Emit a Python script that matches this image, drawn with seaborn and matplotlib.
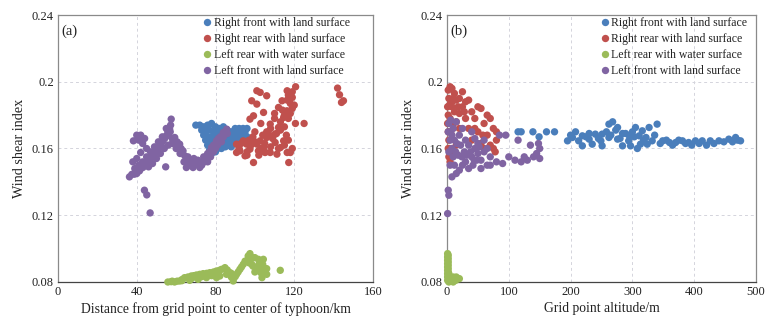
import numpy as np
import pandas as pd
import seaborn as sns
import matplotlib.pyplot as plt

# ---------------- data: panel (a) distance (km) vs wind shear index ----------------
right_front_a = [(70,0.174),(72,0.174),(74,0.173),(76,0.174),(78,0.175),(80,0.173),(82,0.172),(84,0.173),
    (86,0.171),(88,0.170),(90,0.172),(92,0.172),(94,0.172),(96,0.172),(73,0.171),(75,0.170),(77,0.171),
    (79,0.170),(81,0.170),(83,0.169),(85,0.170),(87,0.169),(89,0.168),(91,0.169),(93,0.169),(95,0.170),
    (74,0.168),(76,0.167),(78,0.167),(80,0.168),(82,0.167),(84,0.166),(86,0.166),(88,0.167),(90,0.166),
    (92,0.166),(94,0.167),(75,0.165),(77,0.164),(79,0.165),(81,0.164),(83,0.165),(85,0.164),(87,0.164),
    (89,0.165),(91,0.164),(76,0.162),(78,0.161),(80,0.162),(82,0.162),(84,0.163),(86,0.162),(88,0.163),
    (90,0.163),(77,0.159),(79,0.159),(81,0.160),(83,0.160),(78,0.157),(80,0.158),(85,0.161),(88,0.161),
    (92,0.165),(96,0.167),(97,0.166),(95,0.168),(93,0.164)]
right_rear_a = [(101,0.1946),(102.7,0.1936),(106,0.1916),(98.4,0.1886),(101,0.1866),(99.3,0.1796),
    (97.5,0.1776),(104.4,0.1816),(107.8,0.1746),(107,0.1686),(112,0.1846),(113.8,0.1886),(116.4,0.1946),
    (120.7,0.197),(116.4,0.189),(119,0.1906),(116.3,0.1826),(114.6,0.1786),(112,0.1726),(110.3,0.1686),
    (120.6,0.175),(125,0.175),(142,0.1962),(143,0.1922),(144,0.1876),(145,0.1886),(90.7,0.1626),
    (92.4,0.1586),(95,0.1556),(99.3,0.1516),(97.5,0.1596),(101,0.1626),(104.4,0.1606),(107.8,0.1576),
    (110.3,0.1636),(113,0.1606),(116.4,0.1576),(117.2,0.1516),(118,0.1576),(106,0.1666),(102.7,0.1646),
    (95.8,0.1626),(94.1,0.1646),(90.7,0.1576),(114.6,0.1646),(111.2,0.1566),(105.2,0.1576),(101.8,0.1586),
    (92,0.160),(93,0.163),(96,0.158),(98,0.162),(100,0.164),(103,0.160),(105,0.163),(108,0.161),
    (109,0.166),(111,0.169),(113,0.171),(115,0.173),(117,0.178),(118,0.181),(119,0.184),(120,0.186),
    (118,0.187),(115,0.180),(113,0.176),(110,0.178),(108,0.172),(106,0.170),(104,0.168),(103,0.175),
    (100,0.170),(99,0.167),(97,0.165),(112,0.160),(115,0.162),(117,0.165),(119,0.160),(116,0.168),
    (114,0.183),(117,0.192),(119,0.194),(110,0.181),(105,0.158),(96,0.156),(102,0.156)]
left_rear_a = [(55.8,0.080),(57.5,0.0802),(59.2,0.080),(60.5,0.0805),(61.8,0.0806),(63,0.0815),
    (64.3,0.0826),(66,0.083),(67.7,0.0836),(69,0.0838),(70.3,0.0842),(72,0.0846),(73.7,0.085),
    (75.5,0.0852),(77.1,0.0856),(79,0.086),(80.5,0.0866),(82,0.087),(83.1,0.0876),(84.8,0.0886),
    (86,0.0872),(87.3,0.0856),(88,0.083),(89,0.0806),(90.7,0.0846),(91.5,0.086),(92.4,0.0876),
    (93.2,0.089),(94.1,0.0906),(95,0.0925),(95.8,0.0926),(96.6,0.0956),(97.5,0.097),(98.4,0.0906),
    (99,0.0945),(100,0.0946),(101,0.0876),(101.8,0.0936),(102.7,0.0886),(103.6,0.0826),(104.3,0.0936),
    (105.3,0.0866),(106,0.0846),(112.9,0.087),(80.5,0.0826),(75.4,0.0826),(71.2,0.0816),(66.9,0.081),
    (85.6,0.0846),(82.2,0.0836),(78,0.0838),(73,0.0832),(68,0.0822),(63,0.0808),(58,0.0805),(88,0.0852),
    (90,0.0832),(97,0.0915),(99,0.0895),(102,0.0905),(104,0.0905),(106,0.0880),(100,0.0860),(103,0.0856)]
left_front_a = [(36.3,0.143),(37.5,0.1445),(38.8,0.1446),(40,0.145),(41.4,0.1466),(42,0.148),(43.1,0.1486),
    (44,0.150),(44.8,0.1506),(45.5,0.152),(46.5,0.153),(47.3,0.155),(48.2,0.1556),(49,0.157),(49.9,0.1586),
    (50.8,0.160),(51.6,0.1616),(52.5,0.163),(53.3,0.1646),(54.2,0.166),(55,0.1676),(55.8,0.170),
    (56.7,0.1716),(57.2,0.174),(57.5,0.1776),(39,0.148),(41,0.150),(43,0.152),(45,0.155),(47,0.158),
    (49,0.161),(51,0.164),(53,0.167),(55,0.172),(57,0.170),(38,0.152),(40,0.154),(42,0.1576),(46,0.149),
    (48,0.151),(50,0.154),(52,0.157),(54,0.160),(56,0.162),(58,0.166),(56,0.168),(40,0.168),(42,0.168),
    (44,0.166),(38.3,0.1646),(41,0.165),(43,0.163),(45,0.160),(43.9,0.135),(45.1,0.1322),(46.8,0.1214),
    (54.7,0.149),(59.3,0.1666),(60.5,0.164),(61.8,0.1626),(62.5,0.160),(63.5,0.1586),(64.4,0.1556),
    (65.2,0.1486),(66,0.155),(66.9,0.1526),(68,0.152),(68.6,0.1486),(70.3,0.1506),(71,0.153),(72,0.1486),
    (73,0.150),(73.7,0.1516),(74.5,0.153),(75.4,0.1546),(76,0.157),(77,0.158),(78,0.1606),(79,0.162),
    (80.5,0.1646),(81.5,0.166),(82.5,0.167),(84,0.1696),(85.7,0.1716),(58,0.163),(60,0.160),(62,0.157),
    (64,0.152),(67,0.150),(69,0.154),(71,0.151),(74,0.155),(76,0.152),(77.5,0.155),(79,0.158),(80,0.160),
    (81,0.162),(83,0.164),(84,0.167),(86,0.169)]

# ---------------- data: panel (b) altitude (m) vs wind shear index ----------------
right_front_b = [(115,0.170),(120,0.170),(139,0.170),(149,0.167),(161,0.170),(174,0.170),(195,0.1646),
    (203,0.1666),(213,0.1646),(219,0.1676),(230,0.1656),(240,0.1686),(249,0.1646),(262,0.1746),
    (268,0.176),(273,0.171),(284,0.169),(294,0.1646),(305,0.1726),(311,0.1676),(322,0.1666),(327,0.1726),
    (332,0.1646),(340,0.1746),(349,0.1646),(360,0.1636),(370,0.1636),(381,0.1646),(391,0.1636),
    (402,0.1646),(413,0.1646),(426,0.1646),(440,0.1646),(456,0.1656),(467,0.1666),(475,0.1646),
    (219,0.1616),(230,0.169),(251,0.1686),(276,0.1656),(289,0.169),(297,0.1616),(308,0.160),(313,0.1626),
    (324,0.1626),(316,0.1706),(295,0.1676),(284,0.1616),(262,0.1666),(251,0.1616),(235,0.1626),
    (276,0.1726),(200,0.168),(208,0.170),(225,0.167),(245,0.166),(258,0.170),(265,0.168),(280,0.166),
    (300,0.170),(303,0.167),(318,0.165),(336,0.168),(345,0.163),(355,0.165),(365,0.162),(375,0.165),
    (386,0.163),(396,0.162),(408,0.163),(420,0.162),(432,0.163),(448,0.164),(462,0.164),(470,0.165)]
right_rear_b = [(2,0.195),(5,0.197),(8,0.196),(12,0.193),(3,0.19),(8,0.188),(15,0.189),(20,0.19),
    (25,0.194),(30,0.188),(35,0.189),(25,0.185),(40,0.182),(50,0.185),(55,0.184),(45,0.178),(30,0.178),
    (65,0.18),(70,0.178),(60,0.175),(75,0.172),(80,0.17),(2,0.18),(5,0.178),(10,0.175),(15,0.176),
    (20,0.172),(35,0.172),(50,0.17),(65,0.168),(80,0.165),(2,0.17),(3,0.165),(2,0.16),(3,0.155),(5,0.152),
    (10,0.158),(15,0.162),(40,0.165),(55,0.163),(60,0.16),(70,0.162),(75,0.16),(78,0.158),(8,0.185),
    (12,0.182),(20,0.181),(1,0.185),(1,0.175),(4,0.186),(10,0.190),(18,0.185),(28,0.182),(6,0.170),
    (4,0.160),(8,0.155),(45,0.172),(58,0.168)]
left_rear_b = [(1,0.097),(1,0.095),(1,0.093),(1,0.091),(1,0.089),(1,0.087),(1,0.085),(1,0.083),(1,0.081),
    (2,0.096),(2,0.092),(2,0.088),(3,0.085),(5,0.083),(8,0.082),(10,0.083),(12,0.082),(15,0.083),
    (18,0.082),(20,0.082),(6,0.081),(14,0.081),(3,0.08),(10,0.080),(2,0.094),(2,0.090),(2,0.086),(2,0.084)]
left_front_b = [(85,0.168),(95,0.168),(100,0.155),(110,0.153),(115,0.165),(125,0.155),(130,0.153),
    (135,0.162),(140,0.155),(145,0.157),(150,0.16),(150,0.154),(148,0.163),(120,0.152),(90,0.151),
    (80,0.152),(70,0.155),(65,0.15),(2,0.17),(5,0.165),(8,0.16),(10,0.155),(12,0.15),(15,0.145),(8,0.143),
    (20,0.147),(25,0.15),(30,0.152),(35,0.148),(40,0.155),(45,0.16),(50,0.157),(55,0.153),(60,0.158),
    (20,0.168),(25,0.172),(15,0.176),(10,0.172),(30,0.165),(35,0.162),(40,0.17),(45,0.166),(50,0.163),
    (60,0.165),(65,0.16),(3,0.158),(5,0.15),(18,0.156),(28,0.158),(38,0.158),(22,0.162),(12,0.165),
    (3,0.175),(6,0.177),(42,0.15),(48,0.153),(55,0.148),(70,0.15),(2,0.135),(3,0.132),(1,0.121),
    (14,0.158),(24,0.155),(32,0.156),(44,0.153),(52,0.161),(8,0.168),(16,0.163)]

groups = ["Right front with land surface", "Right rear with land surface",
          "Left rear with water surface", "Left front with land surface"]
colors = ["#4a7ebb", "#c0504d", "#9bbb59", "#8064a2"]
x_ticks_a = [0, 40, 80, 120, 160]
x_ticks_b = [0, 100, 200, 300, 400, 500]
y_ticks = [0.08, 0.12, 0.16, 0.2, 0.24]
y_tick_labels = ["0.08", "0.12", "0.16", "0.2", "0.24"]


def frame(series):
    rows = []
    for g, pts in zip(groups, series):
        for x, y in pts:
            rows.append((x, y, g))
    return pd.DataFrame(rows, columns=["x", "y", "group"])


df_a = frame([right_front_a, right_rear_a, left_rear_a, left_front_a])
df_b = frame([right_front_b, right_rear_b, left_rear_b, left_front_b])

sns.set_theme(style="white")
plt.rcParams["font.family"] = ["Liberation Serif", "DejaVu Serif"]

fig = plt.figure(figsize=(7.66, 3.24), dpi=100)
W, H = 766, 324
ax1 = fig.add_axes([58 / W, 42 / H, 315 / W, 267 / H])
ax2 = fig.add_axes([447 / W, 42 / H, 309 / W, 267 / H])

palette = dict(zip(groups, colors))
panels = [
    (ax1, df_a, x_ticks_a, "Distance from grid point to center of typhoon/km", "(a)", (1 - 23 / 315, 1 - 2 / 267), 0.2),
    (ax2, df_b, x_ticks_b, "Grid point altitude/m", "(b)", (1 - 9 / 309, 1 - 2 / 267), 0.1),
]
for ax, df, xt, xlab, tag, anchor, tpad in panels:
    sns.scatterplot(data=df, x="x", y="y", hue="group", hue_order=groups, palette=palette,
                    s=28, linewidth=0, alpha=1, ax=ax, zorder=3, clip_on=False)
    ax.set_xlim(xt[0], xt[-1])
    ax.set_ylim(0.08, 0.24)
    ax.set_xticks(xt)
    ax.set_yticks(y_ticks)
    ax.set_yticklabels(y_tick_labels)
    ax.grid(True, linestyle=(0, (3, 3)), color="#d4d4dc", linewidth=0.7)
    ax.tick_params(direction="in", length=3, width=0.8, colors="#666666", labelcolor="#222222",
                   labelsize=9, pad=3)
    for sp in ax.spines.values():
        sp.set_color("#8a8a8a")
        sp.set_linewidth(0.9)
    ax.spines["bottom"].set_color("#444444")
    ax.set_xlabel(xlab, fontsize=9.8, color="#222222", labelpad=3)
    ax.set_ylabel("Wind shear index", fontsize=10.2, color="#222222", labelpad=4)
    ax.text(0.012, 0.965, tag, transform=ax.transAxes, ha="left", va="top", fontsize=10.5, color="#222222")
    handles, labels = ax.get_legend_handles_labels()
    ax.legend(handles, labels, loc="upper right", bbox_to_anchor=anchor, frameon=False, fontsize=8.5,
              handletextpad=tpad, labelspacing=0.33, handlelength=0.8, borderaxespad=0.0,
              borderpad=0.0, markerscale=1.0, labelcolor="#222222")

fig.savefig("out.png", dpi=100)
